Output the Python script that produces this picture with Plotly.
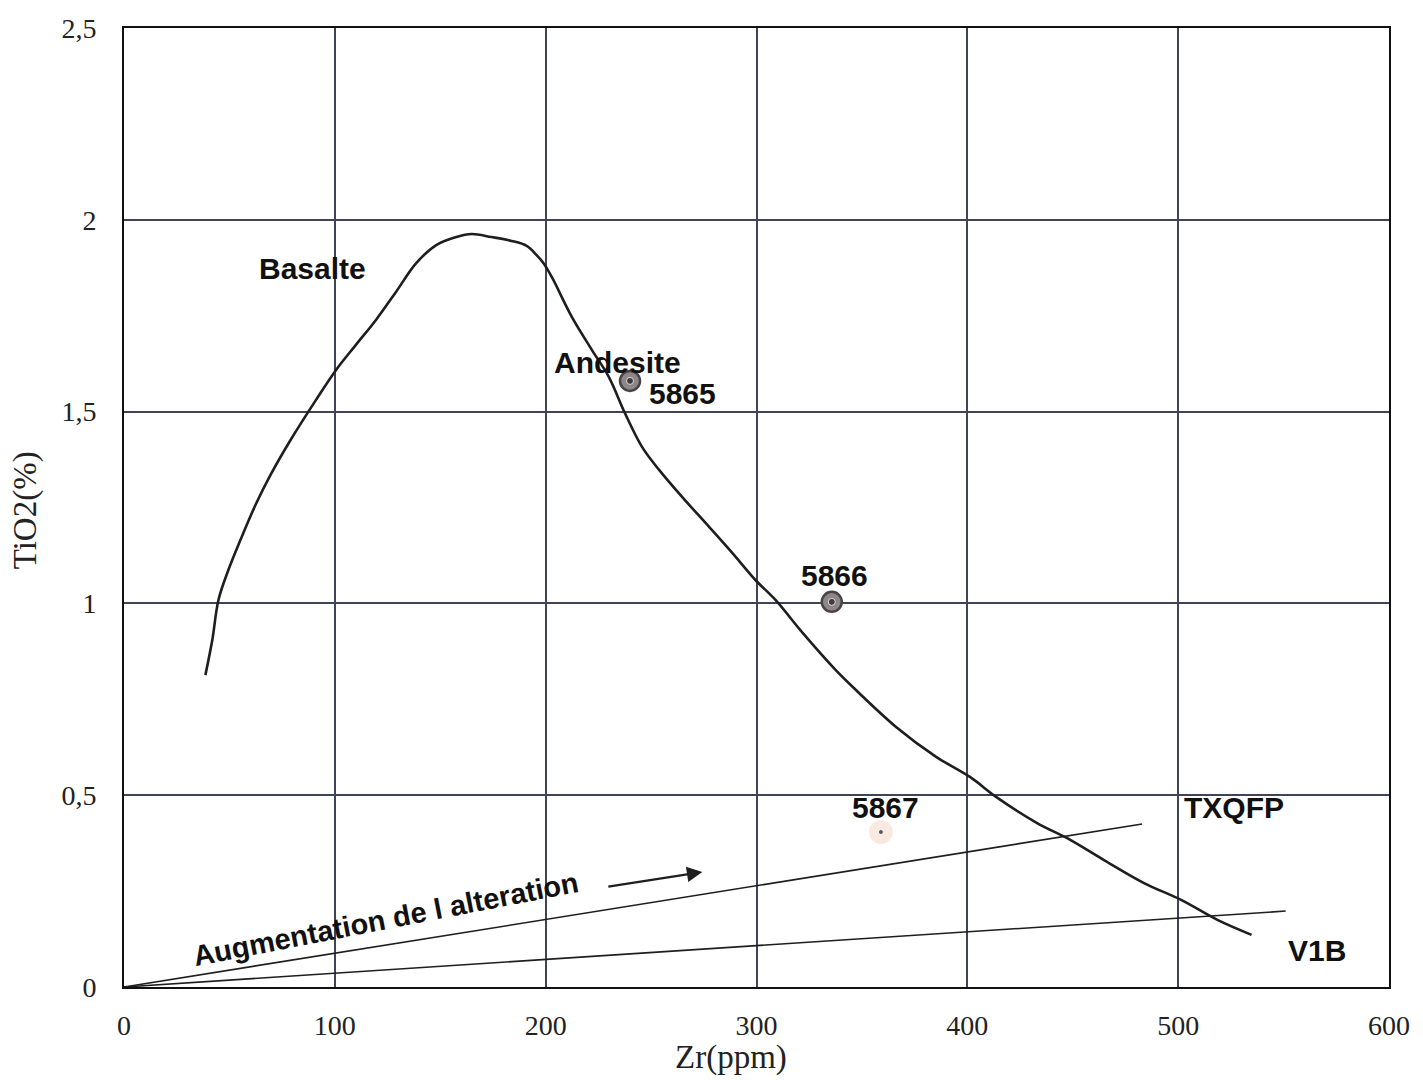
import plotly.graph_objects as go

# Zr (ppm) vs TiO2 (%) trend curve
curve_zr = [38.6, 41.9, 44.8, 49.5, 55.2, 62.4, 69.5, 79.0, 91.0, 100.5, 110.0, 119.5,
            129.0, 138.6, 148.1, 157.6, 164.8, 174.3, 183.8, 191.0, 195.7, 199.0, 202.9,
            212.4, 221.9, 230.0, 237.6, 245.7, 253.8, 264.8, 277.6, 288.6, 299.5, 309.0,
            321.9, 337.6, 345.7, 366.2, 385.2, 401.4, 413.8, 432.9, 449.0, 464.8, 483.8,
            501.4, 518.6, 534.8]
curve_tio2 = [0.813, 0.905, 1.009, 1.087, 1.165, 1.257, 1.335, 1.426, 1.530, 1.608, 1.674,
              1.739, 1.812, 1.887, 1.934, 1.955, 1.963, 1.955, 1.945, 1.932, 1.908, 1.887,
              1.851, 1.747, 1.661, 1.590, 1.496, 1.408, 1.348, 1.277, 1.199, 1.131, 1.061,
              1.009, 0.923, 0.826, 0.782, 0.678, 0.600, 0.547, 0.495, 0.428, 0.383, 0.331,
              0.271, 0.227, 0.175, 0.136]

# Alteration trend lines from the origin
txqfp_zr = [0, 482.9]
txqfp_tio2 = [0, 0.425]
v1b_zr = [0, 551.0]
v1b_tio2 = [0, 0.198]

# Samples
sample_names = ["5865", "5866", "5867"]
sample_zr = [240.0, 335.7, 359.0]
sample_tio2 = [1.58, 1.004, 0.404]

# Axis ticks
x_ticks = [0, 100, 200, 300, 400, 500, 600]
x_tick_text = ["0", "100", "200", "300", "400", "500", "600"]
y_ticks = [0, 0.5, 1, 1.5, 2, 2.5]
y_tick_text = ["0", "0,5", "1", "1,5", "2", "2,5"]

ink = "#1e1e1e"
grid = "#404458"
serif = "Liberation Serif, Times New Roman, serif"
sans = "Liberation Sans, Arial, sans-serif"

fig = go.Figure()

fig.add_trace(go.Scatter(x=txqfp_zr, y=txqfp_tio2, mode="lines",
                         line=dict(color=ink, width=1.6), hoverinfo="skip"))
fig.add_trace(go.Scatter(x=v1b_zr, y=v1b_tio2, mode="lines",
                         line=dict(color=ink, width=1.6), hoverinfo="skip"))
fig.add_trace(go.Scatter(x=curve_zr, y=curve_tio2, mode="lines",
                         line=dict(color=ink, width=2.6, shape="spline", smoothing=1.0),
                         hoverinfo="skip"))

# Sample markers: two ringed dots and one small dot with a faint halo
fig.add_trace(go.Scatter(x=sample_zr[2:], y=sample_tio2[2:], mode="markers",
                         marker=dict(size=24, color="rgba(238,196,168,0.35)", line=dict(width=0)),
                         hoverinfo="skip"))
fig.add_trace(go.Scatter(x=sample_zr[:2], y=sample_tio2[:2], mode="markers",
                         marker=dict(size=20, color="#8d8789", line=dict(color="#4a4446", width=2.5)),
                         hoverinfo="skip"))
fig.add_trace(go.Scatter(x=sample_zr, y=sample_tio2, mode="markers",
                         marker=dict(size=[7, 7, 5], color="#201a1c"),
                         text=sample_names, hoverinfo="text"))

label_font = dict(family=sans, size=30, color="#111111")
labels = [
    ("Basalte", 89.5, 1.874),
    ("Andesite", 234.3, 1.629),
    ("5865", 264.8, 1.546),
    ("5866", 337.1, 1.074),
    ("5867", 361.0, 0.467),
    ("TXQFP", 526.7, 0.467),
    ("V1B", 565.7, 0.096),
]
for text, x, y in labels:
    fig.add_annotation(x=x, y=y, text=f"<b>{text}</b>", showarrow=False,
                       font=label_font, xanchor="center", yanchor="middle")

fig.add_annotation(x=124.3, y=0.178, text="<b>Augmentation de l alteration</b>",
                   showarrow=False, textangle=-11, font=dict(family=sans, size=29, color="#111111"),
                   xanchor="center", yanchor="middle")
fig.add_annotation(x=274.3, y=0.300, ax=229.0, ay=0.261, axref="x", ayref="y",
                   text="", showarrow=True, arrowhead=2, arrowsize=1.4, arrowwidth=2.2,
                   arrowcolor=ink)

# Axis titles
title_font = dict(family=serif, size=33, color="#222222")
fig.add_annotation(xref="paper", yref="paper", x=0.4798, y=-0.073, text="Zr(ppm)",
                   showarrow=False, font=title_font, xanchor="center", yanchor="middle")
fig.add_annotation(xref="paper", yref="paper", x=-0.0783, y=0.497, text="TiO2(%)",
                   showarrow=False, font=title_font, textangle=-90,
                   xanchor="center", yanchor="middle")

fig.update_layout(
    width=1423, height=1080,
    margin=dict(l=124, r=34, t=28, b=93),
    paper_bgcolor="white", plot_bgcolor="white",
    showlegend=False,
    font=dict(family=serif, size=28, color="#222222"),
)
fig.update_xaxes(range=[0, 600], tickvals=x_ticks, ticktext=x_tick_text,
                 showgrid=True, gridcolor=grid, gridwidth=1.5,
                 showline=True, linecolor="#111111", linewidth=2, mirror=True,
                 zeroline=False, ticks="", ticklabelstandoff=12)
fig.update_yaxes(range=[0, 2.5], tickvals=y_ticks, ticktext=y_tick_text,
                 showgrid=True, gridcolor=grid, gridwidth=1.5,
                 showline=True, linecolor="#111111", linewidth=2, mirror=True,
                 zeroline=False, ticks="", ticklabelstandoff=20)

fig.write_html("out.html")
